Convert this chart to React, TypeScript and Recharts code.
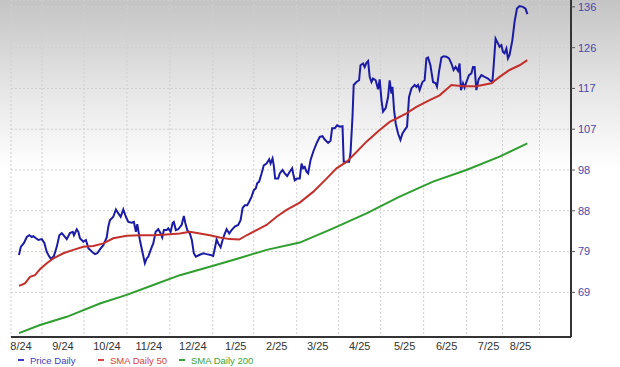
import React from "react";
import { LineChart, Line, XAxis, YAxis, CartesianGrid } from "recharts";

// x = trading-day index from the first observation (mid Aug 2024)
const priceDaily: [number, number][] = [
  [0, 77.7], [0.9, 79.6], [2.5, 80.5], [3.9, 81.9], [5.2, 82.3], [6.4, 81.9], [7.2, 82.1], [8.5, 81.6],
  [9.7, 81.2], [11.4, 81.4], [12.7, 80.5], [13.9, 78.4], [15.2, 77.3], [16, 76.8], [17.5, 77.5], [18.9, 79.6],
  [20.2, 82.3], [21.4, 82.8], [23, 81.9], [23.9, 81.4], [25.5, 82.8], [26.9, 83.1], [27.5, 82.3], [28.9, 83.7],
  [29.7, 83.1], [30.5, 81.6], [32.2, 80.8], [33.5, 81.2], [34.7, 79.3], [36.4, 78.5], [38, 77.9], [39.2, 78.1],
  [40.5, 79.0], [42.2, 80.0], [43.9, 81.8], [44.7, 84.3], [45.5, 85.8], [47.2, 86.6], [48.5, 88.3], [49.7, 87.4],
  [50.9, 86.6], [52.2, 88.3], [53.5, 86.6], [54.7, 85.4], [56.4, 85.2], [57.5, 85.4], [58.5, 83.1], [59.2, 84.9],
  [60.5, 81.2], [61.9, 78.1], [63, 75.8], [63.9, 76.9], [64.7, 77.3], [65.9, 78.9], [67.2, 80.4], [68.4, 83.1],
  [69.7, 83.7], [70.9, 82.7], [71.7, 81.8], [72.5, 83.5], [73.9, 83.5], [74.7, 83.9], [75.9, 83.1], [76.9, 85.2],
  [77.5, 85.4], [78.5, 83.5], [79.7, 83.7], [81.4, 84.7], [82.5, 86.8], [83.2, 85.2], [84.2, 83.5], [85.5, 82.7],
  [86.5, 81.2], [87.5, 78.1], [88.5, 77.3], [90.2, 77.7], [92.2, 78.1], [93.9, 77.9], [95.9, 77.7], [97.2, 77.5],
  [98, 79.2], [98.9, 81.3], [99.7, 80.4], [100.9, 79.5], [101.9, 81.2], [103, 82.7], [103.9, 83.7], [105.2, 82.7],
  [106.4, 83.5], [108, 84.3], [109.7, 84.7], [110.9, 85.8], [111.9, 88.6], [113, 89.3], [114.2, 89.3], [115.2, 90.1],
  [116.4, 91.3], [117.5, 92.8], [118.5, 93.2], [119.2, 94.4], [120.2, 94.8], [121.4, 96.7], [122.5, 98.6], [123.9, 99.0],
  [125.2, 100.0], [125.9, 99.0], [126.9, 100.2], [127.5, 98.6], [128.2, 95.5], [129.7, 95.5], [130.5, 96.7], [131.9, 97.5],
  [133, 96.7], [134.2, 96.1], [135.5, 97.1], [136.7, 97.9], [137.2, 96.7], [138, 95.1], [139.2, 95.5], [140.5, 95.5],
  [141.4, 99.0], [142.2, 97.9], [143, 98.2], [143.9, 97.1], [144.7, 96.7], [145.9, 99.8], [147.2, 101.7], [148.9, 103.7],
  [150.5, 105.2], [151.9, 105.4], [153, 104.6], [154.7, 103.8], [155.9, 104.3], [156.7, 107.2], [158, 107.2], [159.2, 107.9],
  [160.5, 107.6], [161.9, 107.7], [162.5, 99.4], [163.9, 99.4], [165.2, 99.4], [165.9, 101.4], [166.9, 109.9], [167.5, 117.3],
  [168.9, 118.0], [170.2, 118.4], [170.9, 121.9], [172.2, 122.3], [173, 121.5], [173.9, 122.5], [174.7, 122.9], [175.5, 119.2],
  [176.4, 118.0], [177.2, 118.8], [178.5, 118.4], [179.7, 116.3], [180.5, 118.6], [181.4, 113.8], [182.2, 111.1], [183.5, 111.9],
  [184.7, 114.5], [185.5, 118.4], [186.4, 115.3], [186.9, 116.9], [187.7, 111.5], [188.5, 108.4], [189.7, 106.0], [190.9, 104.5],
  [191.9, 106.0], [193, 106.8], [194.2, 107.6], [195.2, 114.5], [196.4, 116.5], [198, 117.3], [198.9, 116.9], [199.7, 117.3],
  [200.5, 116.1], [201.9, 118.0], [203, 118.4], [203.9, 123.5], [204.7, 123.7], [205.9, 121.9], [207.2, 118.0], [208.5, 117.7],
  [209.2, 116.9], [210.2, 120.4], [211.4, 123.7], [212.5, 124.0], [213.9, 123.9], [215.2, 123.5], [216.4, 122.3], [217.5, 120.8],
  [218.5, 121.5], [219.7, 120.6], [220.5, 122.3], [221.2, 116.1], [222.2, 117.7], [223, 116.7], [223.9, 118.0], [225.2, 119.6],
  [226.4, 120.0], [227.2, 121.5], [228, 121.5], [228.9, 116.1], [230, 118.6], [231.4, 119.6], [233, 119.2], [234.7, 118.8],
  [235.9, 118.3], [236.9, 118.0], [237.5, 121.5], [238.5, 128.1], [239.7, 127.0], [240.5, 126.2], [241.4, 126.6], [242.2, 125.0],
  [243, 124.7], [243.9, 125.8], [244.7, 123.5], [245.5, 124.3], [246.9, 127.7], [248, 132.0], [249.2, 135.1], [250.5, 135.7],
  [252.2, 135.5], [253.5, 135.1], [254.4, 133.8],
];

const smaDaily50: [number, number][] = [
  [0, 70.5], [3, 71.1], [5.5, 72.6], [8, 73.0], [10.5, 74.4], [13.9, 75.8], [17.2, 76.9], [22.2, 78.1],
  [27.2, 78.9], [32.2, 79.6], [37.2, 79.8], [42.2, 80.4], [47.2, 81.6], [53.9, 82.2], [60.5, 82.3], [67.2, 82.3],
  [73.9, 82.5], [80.5, 82.7], [85.5, 83.1], [90.5, 82.7], [95.5, 82.3], [100.5, 81.8], [105.5, 81.4], [110.2, 81.3],
  [113.9, 82.3], [118.9, 83.5], [123.9, 84.7], [128.9, 86.6], [133.9, 88.2], [140.5, 89.9], [147.2, 92.4], [153.9, 95.5],
  [158.9, 97.9], [163.9, 99.4], [168.9, 101.7], [173.9, 104.1], [180.5, 106.8], [185.5, 108.7], [188.9, 109.5], [193.9, 110.7],
  [198.9, 112.2], [205.5, 113.8], [210.5, 114.9], [216.4, 117.3], [222.2, 117.0], [228.9, 117.0], [236.4, 117.7], [240.5, 119.2],
  [245.5, 120.8], [250.5, 121.9], [254.4, 123.1],
];

const smaDaily200: [number, number][] = [
  [0, 59.5], [10.5, 61.4], [23.9, 63.3], [40.5, 66.4], [53.9, 68.4], [67.2, 70.7], [80.5, 73.0], [97.2, 75.2],
  [110.5, 77.0], [123.9, 78.9], [140.5, 80.6], [157.2, 83.9], [173.9, 87.4], [190.5, 91.3], [207.2, 94.8], [223.9, 97.5],
  [240.5, 100.6], [254.4, 103.7],
];

const monthLabels = ["8/24", "9/24", "10/24", "11/24", "12/24", "1/25", "2/25", "3/25", "4/25", "5/25", "6/25", "7/25", "8/25"];
const monthLabelDays = [1, 22, 44, 65, 87, 108.5, 129, 149.5, 170.5, 193, 214, 235, 251];
const monthStartDays = [11.5, 32.5, 54, 75.5, 97, 117.5, 139, 160, 181, 202.5, 224, 242, 260.5];
const priceTicks = [69, 78.5, 88, 97.5, 107, 116.5, 126, 135.5];

const xDomain: [number, number] = [-4, 276.25];
const yDomain: [number, number] = [58.6, 137.1];

const toRows = (pts: [number, number][]) => pts.map(([d, v]) => ({ d, v }));

const series = [
  { name: "Price Daily", data: toRows(priceDaily), stroke: "#1b1ba4", text: "#3d3dc4" },
  { name: "SMA Daily 50", data: toRows(smaDaily50), stroke: "#c3302c", text: "#d24545" },
  { name: "SMA Daily 200", data: toRows(smaDaily200), stroke: "#2f9e2f", text: "#3aa43a" },
];

const legendLeft = [18, 98, 179];

export default function App() {
  return (
    <div
      style={{
        position: "absolute",
        left: 0,
        top: 0,
        width: 620,
        height: 367,
        background: "linear-gradient(to bottom, #c4c4c4 0px, #e6e6e6 90px, #ffffff 170px, #ffffff 367px)",
        fontFamily: "'Liberation Sans', Arial, sans-serif",
      }}
    >
      <LineChart width={620} height={367} margin={{ top: 0, right: 0, left: 11, bottom: 0 }}>
        <CartesianGrid
          xAxisId="grid"
          stroke="#cfcfcf"
          strokeDasharray="2 2"
          strokeWidth={1}
        />
        <XAxis
          xAxisId="main"
          dataKey="d"
          type="number"
          domain={xDomain}
          allowDataOverflow
          ticks={monthLabelDays}
          interval={0}
          height={30}
          tickFormatter={(v: number) => monthLabels[monthLabelDays.indexOf(v)] ?? ""}
          tick={{ fontSize: 11, fill: "#333333", fontFamily: "'Liberation Sans', Arial, sans-serif" }}
          tickLine={false}
          tickSize={3}
          tickMargin={2}
          axisLine={{ stroke: "#333333", strokeWidth: 2 }}
        />
        <XAxis
          xAxisId="grid"
          dataKey="d"
          type="number"
          domain={xDomain}
          allowDataOverflow
          ticks={monthStartDays}
          height={0}
          hide
        />
        <YAxis
          orientation="right"
          type="number"
          domain={yDomain}
          allowDataOverflow
          ticks={priceTicks}
          interval={0}
          width={49}
          tickFormatter={(v: number) => String(Math.round(v))}
          tick={{ fontSize: 11, fill: "#4848aa", fontFamily: "'Liberation Sans', Arial, sans-serif" }}
          tickLine={{ stroke: "#555555" }}
          tickSize={4}
          tickMargin={3}
          axisLine={{ stroke: "#333333", strokeWidth: 2 }}
        />
        {series.map((s) => (
          <Line
            key={s.name}
            xAxisId="main"
            data={s.data}
            dataKey="v"
            name={s.name}
            type="linear"
            stroke={s.stroke}
            strokeWidth={2}
            dot={false}
            activeDot={false}
            isAnimationActive={false}
          />
        ))}
      </LineChart>
      {series.map((s, k) => (
        <div
          key={s.name}
          style={{
            position: "absolute",
            left: legendLeft[k],
            top: 353,
            height: 14,
            display: "flex",
            alignItems: "center",
            fontSize: 9.5,
            color: s.text,
            whiteSpace: "nowrap",
          }}
        >
          <span style={{ display: "inline-block", width: 6, height: 2, background: s.text, marginRight: 6 }} />
          {s.name}
        </div>
      ))}
    </div>
  );
}
